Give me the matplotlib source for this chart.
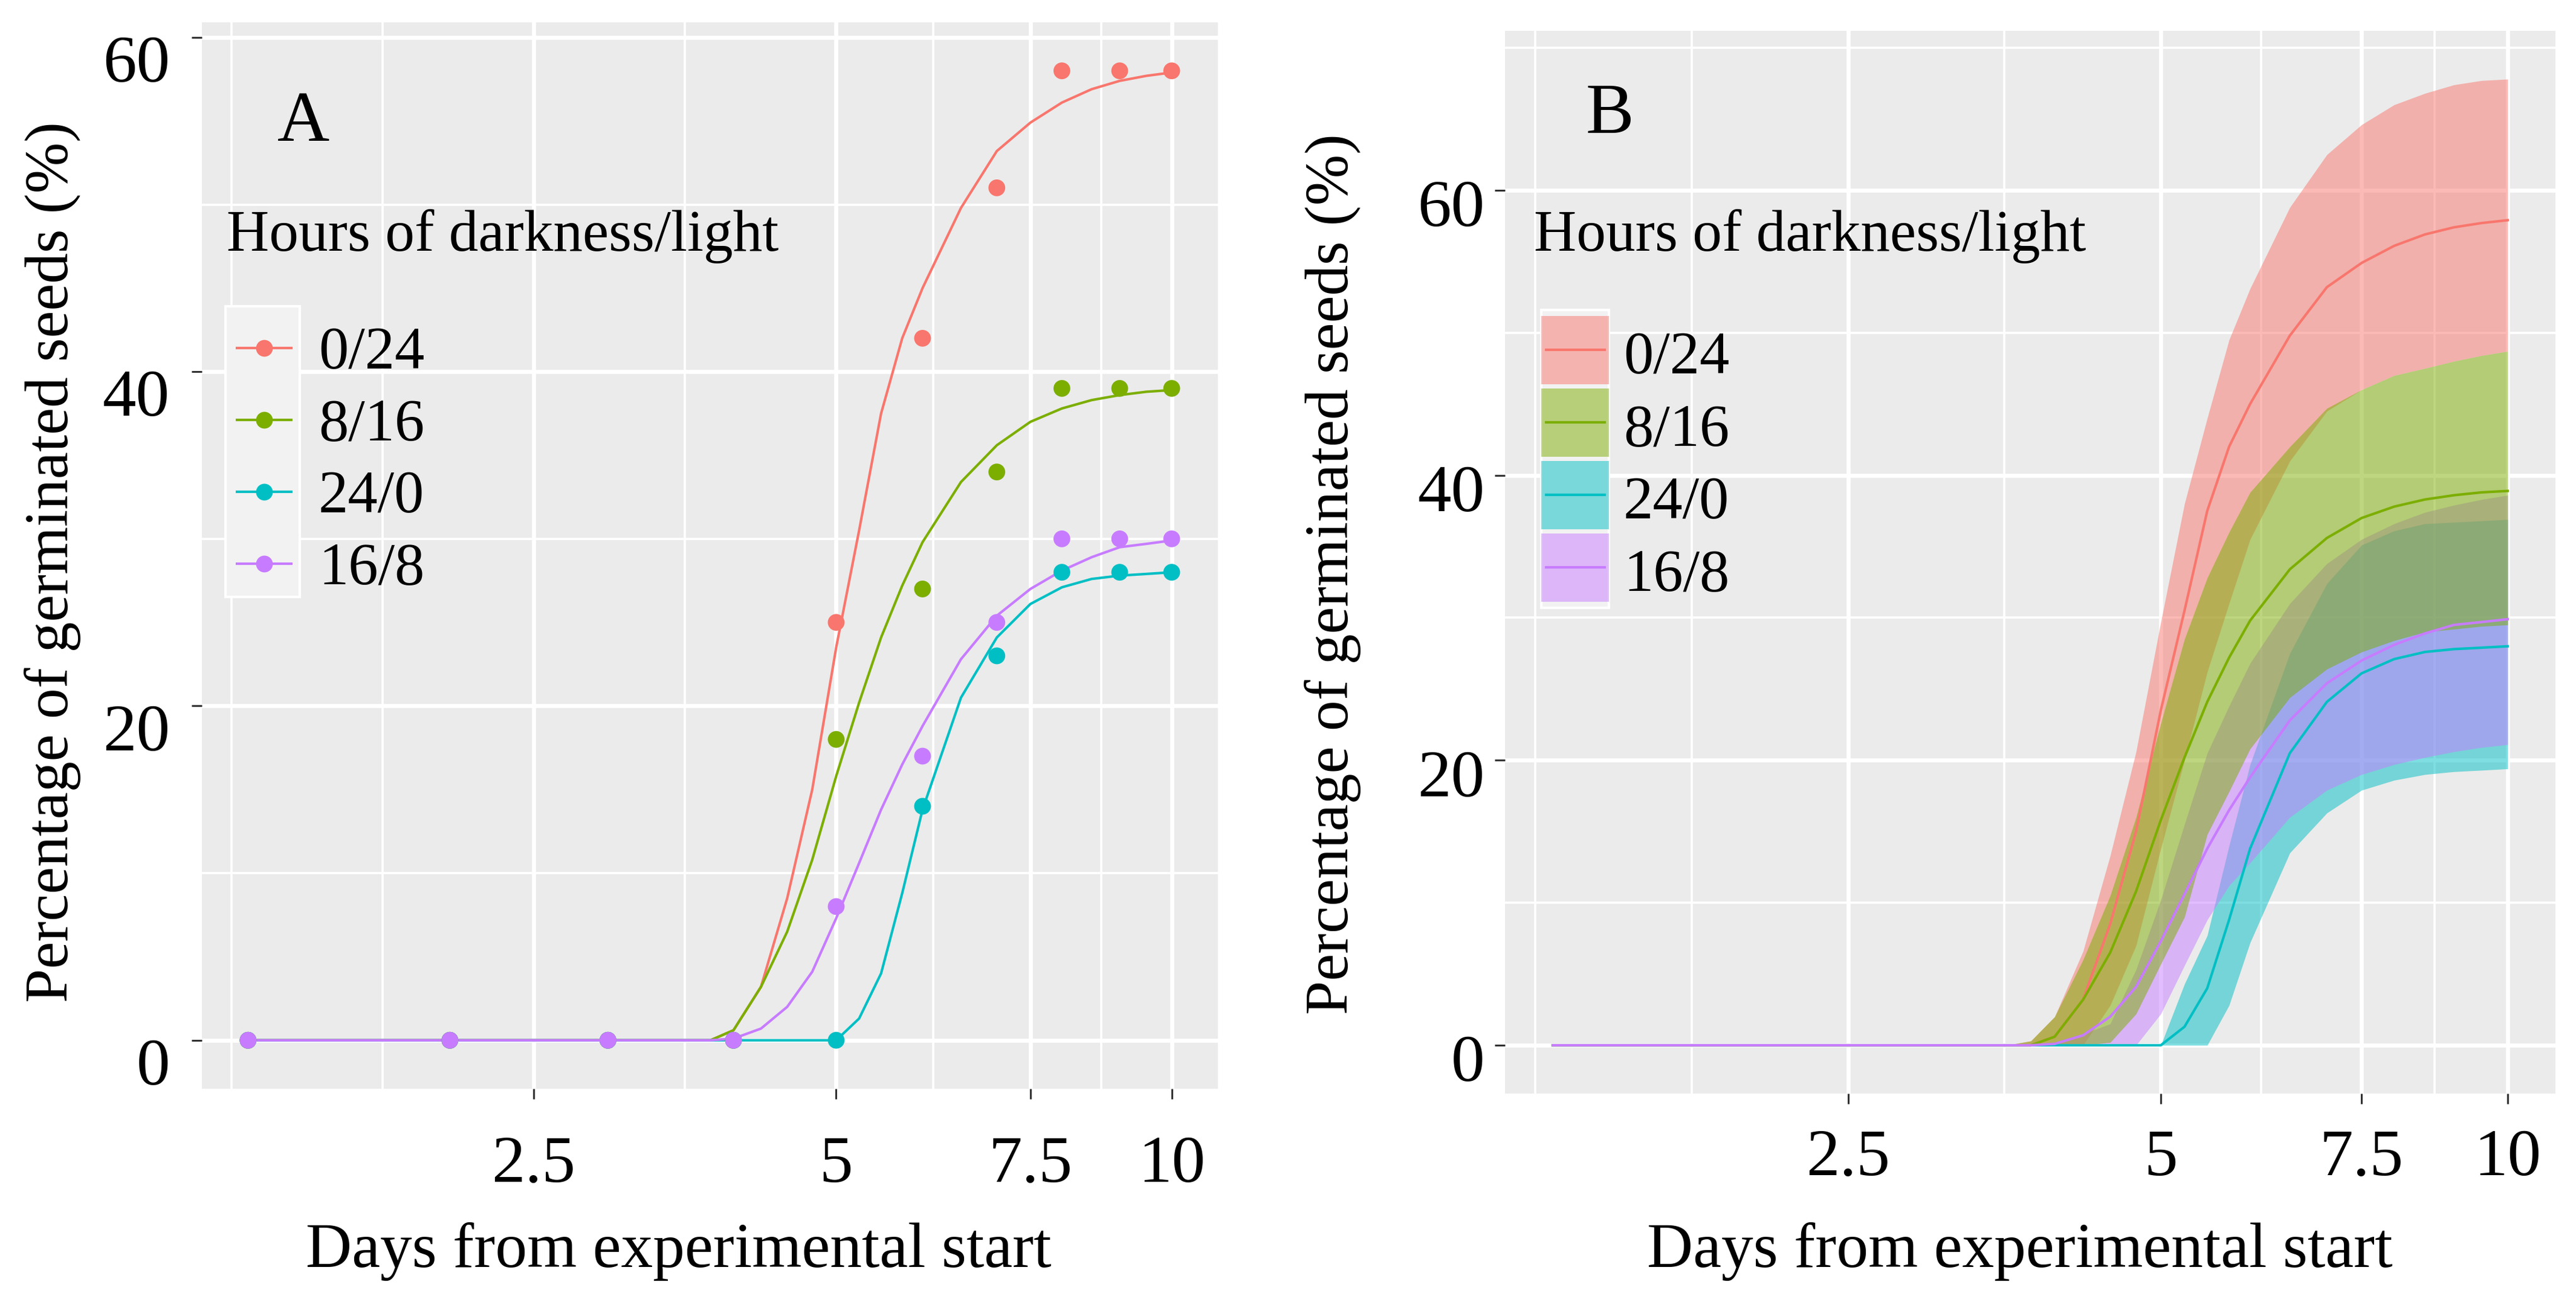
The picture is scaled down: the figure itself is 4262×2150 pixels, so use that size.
import numpy as np
import matplotlib
matplotlib.use("Agg")
import matplotlib.pyplot as plt
from matplotlib.patches import Rectangle
from matplotlib.transforms import ScaledTranslation

# ---------------- data ----------------
groups = ["0/24", "8/16", "24/0", "16/8"]
colors = ["#F8766D", "#7CAE00", "#00BFC4", "#C77CFF"]
legend_title = "Hours of darkness/light"
x_label = "Days from experimental start"
y_label = "Percentage of germinated seeds (%)"
panel_labels = ["A", "B"]
x_ticks = [2.5, 5, 7.5, 10]
x_tick_labels = ["2.5", "5", "7.5", "10"]
y_ticks = [0, 20, 40, 60]
y_tick_labels = ["0", "20", "40", "60"]

# observed germination (panel A points)
days = [1, 2, 3, 4, 5, 6, 7, 8, 9, 10]
obs_0_24 = [0, 0, 0, 0, 25, 42, 51, 58, 58, 58]
obs_8_16 = [0, 0, 0, 0, 18, 27, 34, 39, 39, 39]
obs_24_0 = [0, 0, 0, 0, 0, 14, 23, 28, 28, 28]
obs_16_8 = [0, 0, 0, 0, 8, 17, 25, 30, 30, 30]

# fitted curves (read at these days)
fit_days = [1, 3.6, 3.8, 4, 4.25, 4.5, 4.75, 5, 5.25, 5.5, 5.75, 6, 6.5, 7, 7.5, 8, 8.5, 9, 9.5, 10]
fit_0_24 = [0, 0, 0, 0.6, 3.2, 8.5, 15.0, 23.5, 30.5, 37.5, 42.0, 45.0, 49.8, 53.2, 54.9, 56.1, 56.9, 57.4, 57.7, 57.9]
fit_8_16 = [0, 0, 0, 0.6, 3.2, 6.5, 10.8, 15.8, 20.2, 24.1, 27.2, 29.8, 33.4, 35.6, 37.0, 37.8, 38.3, 38.6, 38.8, 38.9]
fit_24_0 = [0, 0, 0, 0, 0, 0, 0, 0, 1.3, 4.0, 8.8, 13.8, 20.5, 24.1, 26.1, 27.1, 27.6, 27.8, 27.9, 28.0]
fit_16_8 = [0, 0, 0, 0.1, 0.7, 2.0, 4.1, 7.3, 10.6, 13.8, 16.5, 18.8, 22.8, 25.4, 27.0, 28.1, 28.9, 29.5, 29.7, 29.9]

# confidence bands (panel B)
lo_0_24 = [0, 0, 0, 0, 0, 2.8, 7.0, 13.8, 20.0, 26.2, 31.0, 35.5, 41.0, 44.5, 46.0, 47.0, 47.5, 48.0, 48.4, 48.7]
hi_0_24 = [0, 0, 0.3, 2.0, 6.6, 13.3, 20.6, 29.7, 38.0, 44.0, 49.5, 53.1, 58.8, 62.5, 64.6, 66.0, 66.8, 67.4, 67.7, 67.8]
lo_8_16 = [0, 0, 0, 0, 0, 0.2, 2.2, 5.7, 9.0, 14.8, 17.8, 20.8, 24.4, 26.4, 27.6, 28.4, 29.0, 29.2, 29.4, 29.5]
hi_8_16 = [0, 0, 0.3, 2.0, 6.0, 10.5, 16.0, 22.6, 28.5, 32.8, 36.0, 38.8, 42.0, 44.7, 46.0, 47.0, 47.5, 48.0, 48.4, 48.7]
lo_24_0 = [0, 0, 0, 0, 0, 0, 0, 0, 0, 0, 2.8, 7.2, 13.5, 16.3, 17.9, 18.6, 19.0, 19.2, 19.3, 19.4]
hi_24_0 = [0, 0, 0, 0, 0, 0, 0, 0, 4.3, 7.7, 14.0, 19.7, 27.5, 32.4, 35.1, 36.1, 36.6, 36.7, 36.8, 36.9]
lo_16_8 = [0, 0, 0, 0, 0, 0, 0, 2.2, 5.6, 8.8, 11.2, 12.8, 16.0, 17.9, 19.0, 19.7, 20.2, 20.6, 20.9, 21.1]
hi_16_8 = [0, 0, 0, 0.2, 0.8, 1.5, 5.3, 10.2, 15.5, 20.5, 23.8, 26.8, 31.0, 33.8, 35.5, 36.6, 37.4, 37.9, 38.3, 38.6]

obs = [obs_0_24, obs_8_16, obs_24_0, obs_16_8]
fits = [fit_0_24, fit_8_16, fit_24_0, fit_16_8]
los = [lo_0_24, lo_8_16, lo_24_0, lo_16_8]
his = [hi_0_24, hi_8_16, hi_24_0, hi_16_8]
ribbon_order = [0, 2, 3, 1]   # drawing order of the bands

# ---------------- layout ----------------
W, H, DPI = 4262, 2150, 100
FONT = ["Liberation Serif", "DejaVu Serif"]
plt.rcParams["font.family"] = FONT
LW = 3.0

fig = plt.figure(figsize=(W / DPI, H / DPI), dpi=DPI, facecolor="white")


def fwd(x):
    return np.arcsinh(np.asarray(x, dtype=float) / 2.0)


def inv(t):
    return 2.0 * np.sinh(np.asarray(t, dtype=float))


def box(l, t, r, b):
    return [l / W, 1 - b / H, (r - l) / W, (b - t) / H]


def setup(ax, ymax_data, xpad, ypad, ydrop):
    ax.set_facecolor("#EBEBEB")
    for s in ax.spines.values():
        s.set_visible(False)
    ax.set_xscale("function", functions=(fwd, inv))
    t0, t1 = float(fwd(min(days))), float(fwd(max(days)))
    span = t1 - t0
    lo_t, hi_t = t0 - 0.05 * span, t1 + 0.05 * span
    ax.set_xlim(float(inv(lo_t)), float(inv(hi_t)))
    ax.set_ylim(-0.05 * ymax_data, 1.05 * ymax_data)
    ax.set_xticks(x_ticks)
    ax.set_xticklabels(x_tick_labels)
    tm = fwd(x_ticks)
    bd = tm[1] - tm[0]
    ext = np.concatenate([[tm[0] - bd], tm])
    minor_t = np.concatenate([[tm[0] - bd], (ext[:-1] + ext[1:]) / 2])
    minor_t = minor_t[(minor_t > lo_t) & (minor_t < hi_t)]
    ax.set_xticks(inv(minor_t), minor=True)
    ax.set_yticks(y_ticks)
    ax.set_yticklabels(y_tick_labels)
    ymin, ymax = ax.get_ylim()
    ym = [v + 10 for v in y_ticks]
    ax.set_yticks([v for v in ym if ymin < v < ymax], minor=True)
    ax.grid(which="major", color="white", lw=4.8)
    ax.grid(which="minor", color="white", lw=2.6)
    ax.set_axisbelow(True)
    ax.tick_params(which="major", length=12, width=2.2, color="#333333",
                   labelsize=80, labelcolor="black")
    ax.tick_params(axis="x", which="major", pad=xpad)
    ax.tick_params(axis="y", which="major", pad=ypad)
    ax.tick_params(which="minor", length=0)
    for lab in ax.get_yticklabels():
        lab.set_transform(lab.get_transform() +
                          ScaledTranslation(0, -ydrop / DPI, fig.dpi_scale_trans))


# ---------------- panel A ----------------
axA = fig.add_axes(box(334, 37, 2015, 1802))
setup(axA, max(max(o) for o in obs), xpad=44, ypad=26, ydrop=35)
for i in range(4):
    axA.plot(fit_days, fits[i], color=colors[i], lw=LW, zorder=3)
for i in range(4):
    axA.scatter(days, obs[i], s=400, color=colors[i], edgecolors="none", zorder=4)

# ---------------- panel B ----------------
axB = fig.add_axes(box(2490, 51, 4228, 1810))
setup(axB, max(max(h) for h in his), xpad=30, ypad=12, ydrop=21)
for i in ribbon_order:
    axB.fill_between(fit_days, los[i], his[i], color=colors[i], alpha=0.5,
                     linewidth=0, zorder=2)
for i in range(4):
    axB.plot(fit_days, fits[i], color=colors[i], lw=LW, zorder=3)

# ---------------- overlay (titles, legends) in pixel units ----------------
ov = fig.add_axes([0, 0, 1, 1], zorder=10)
ov.set_xlim(0, W)
ov.set_ylim(H, 0)
ov.axis("off")
ov.patch.set_alpha(0)

ov.text(87, 930, y_label, rotation=90, ha="center", va="center", fontsize=73)
ov.text(2205, 950, y_label, rotation=90, ha="center", va="center", fontsize=73)
ov.text(1123, 2097, x_label, ha="center", va="baseline", fontsize=76)
ov.text(3342, 2097, x_label, ha="center", va="baseline", fontsize=76)
ov.text(502, 233, panel_labels[0], ha="center", va="baseline", fontsize=86)
ov.text(2663, 220, panel_labels[1], ha="center", va="baseline", fontsize=86)

# legend A (points + lines)
ov.text(375, 415, legend_title, ha="left", va="baseline", fontsize=70)
ov.add_patch(Rectangle((373, 507), 496 - 373, 988 - 507, facecolor="#F2F2F2",
                       edgecolor="white", lw=3))
for i, g in enumerate(groups):
    yc = 576 + 119 * i
    ov.plot([390, 484], [yc, yc], color=colors[i], lw=LW, solid_capstyle="butt")
    ov.plot([437], [yc], "o", color=colors[i], ms=20, mec="none")
    ov.text(527, yc + 33, g, ha="left", va="baseline", fontsize=71)

# legend B (bands + lines)
ov.text(2538, 415, legend_title, ha="left", va="baseline", fontsize=70)
ov.add_patch(Rectangle((2550, 513), 2662 - 2550, 1006 - 513, facecolor="#F2F2F2",
                       edgecolor="white", lw=3))
for i, g in enumerate(groups):
    top = 523 + 120 * i
    ov.add_patch(Rectangle((2550, top), 2662 - 2550, 113, facecolor=colors[i],
                           alpha=0.5, edgecolor="none"))
    yc = top + 56
    ov.plot([2556, 2657], [yc, yc], color=colors[i], lw=LW, solid_capstyle="butt")
    ov.text(2686, yc + 38, g, ha="left", va="baseline", fontsize=71)

fig.savefig("out.png", dpi=DPI, facecolor="white")
